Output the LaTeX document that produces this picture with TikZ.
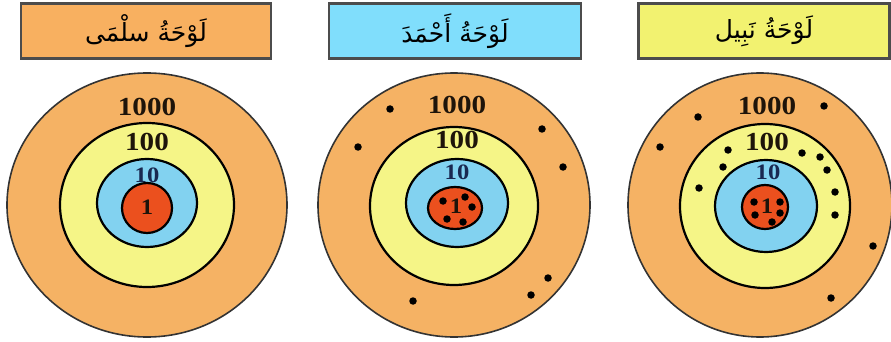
\documentclass[tikz,border=0pt]{standalone}
\usepackage{fontspec}
\setmainfont{Liberation Serif}
\newfontfamily\numfont[FakeStretch=1.12]{Liberation Serif}
\newfontfamily\arabicfont[Script=Arabic]{DejaVu Sans}
\TeXXeTstate=1
\definecolor{outerc}{RGB}{245,178,100}
\definecolor{yellowc}{RGB}{245,245,135}
\definecolor{bluec}{RGB}{130,210,240}
\definecolor{redc}{RGB}{235,80,30}
\definecolor{boxor}{RGB}{248,176,96}
\definecolor{boxbl}{RGB}{128,222,252}
\definecolor{boxye}{RGB}{242,242,112}
\definecolor{numblue}{RGB}{25,40,80}
\definecolor{numdark}{RGB}{30,20,10}
\tikzset{
  ringline/.style={draw=black, line width=2.2pt},
  outerline/.style={draw=black!80, line width=1.6pt},
  bignum/.style={font=\numfont\bfseries\fontsize{26}{26}\selectfont, inner sep=0pt, text=numdark},
  smallnum/.style={font=\numfont\bfseries\fontsize{22}{22}\selectfont, inner sep=0pt, text=numdark},
  titlebox/.style={draw=black!70, line width=2.5pt, minimum height=55pt, inner sep=0pt,
    font=\arabicfont\fontsize{25}{30}\selectfont},
  hit/.style={fill=black, circle, inner sep=0pt, minimum size=7.5pt}
}
\begin{document}
\begin{tikzpicture}[x=1pt,y=-1pt]
\useasboundingbox (0,0) rectangle (891,342);

% ---------- titles
\node[titlebox, fill=boxor, minimum width=250pt] (t1) at (146,31) {\beginR لَوْحَةُ سلْمَى\endR};
\node[titlebox, fill=boxbl, minimum width=252pt] (t2) at (455,31) {\beginR لَوْحَةُ أَحْمَدَ\endR};
\node[titlebox, fill=boxye, minimum width=251pt] (t3) at (764,31) {\beginR لَوْحَةُ نَبِيل\endR};

% ---------- target 1
\fill[outerc] (147,205) ellipse [x radius=140pt, y radius=132pt];
\draw[outerline] (147,205) ellipse [x radius=140pt, y radius=132pt];
\filldraw[ringline, fill=yellowc] (147,205) ellipse [x radius=87pt, y radius=82pt];
\filldraw[ringline, fill=bluec] (147,203) ellipse [x radius=50pt, y radius=44pt];
\filldraw[ringline, fill=redc] (147,208) ellipse [x radius=25pt, y radius=25pt];
\node[bignum] (a1000) at (147,107) {1000};
\node[bignum] (a100) at (147,142) {100};
\node[smallnum, text=numblue] (a10) at (147,175) {10};
\node[smallnum] (a1) at (147,207) {1};

% ---------- target 2
\fill[outerc] (454,205) ellipse [x radius=136pt, y radius=132pt];
\draw[outerline] (454,205) ellipse [x radius=136pt, y radius=132pt];
\filldraw[ringline, fill=yellowc] (454,206) ellipse [x radius=84pt, y radius=79pt];
\filldraw[ringline, fill=bluec] (457,203) ellipse [x radius=51pt, y radius=44pt];
\filldraw[ringline, fill=redc] (455,208) ellipse [x radius=27pt, y radius=21pt];
\node[bignum] (b1000) at (457,105) {1000};
\node[bignum] (b100) at (457,140) {100};
\node[smallnum, text=numblue] (b10) at (457,172) {10};
\node[smallnum] (b1) at (456,206) {1};
\foreach \p [count=\i] in {(390,109),(542,129),(358,147),(563,167),(548,278),(531,295),(413,301),
  (443,201),(465,197),(472,207),(447,219),(463,222)}
  \node[hit] (bh\i) at \p {};

% ---------- target 3
\fill[outerc] (760,205) ellipse [x radius=132pt, y radius=132pt];
\draw[outerline] (760,205) ellipse [x radius=132pt, y radius=132pt];
\filldraw[ringline, fill=yellowc] (765,206) ellipse [x radius=85pt, y radius=82pt];
\filldraw[ringline, fill=bluec] (766,206) ellipse [x radius=51pt, y radius=46pt];
\filldraw[ringline, fill=redc] (765,207) ellipse [x radius=23pt, y radius=22pt];
\node[bignum] (c1000) at (767,106) {1000};
\node[bignum] (c100) at (767,142) {100};
\node[smallnum, text=numblue] (c10) at (768,172) {10};
\node[smallnum] (c1) at (767,206) {1};
\foreach \p [count=\i] in {(698,117),(824,106),(660,147),(873,246),(831,298),
  (728,150),(723,167),(699,188),(802,153),(820,157),(827,170),(835,192),(835,215),
  (754,202),(755,215),(772,222),(780,202),(780,213)}
  \node[hit] (ch\i) at \p {};
\end{tikzpicture}
\end{document}
